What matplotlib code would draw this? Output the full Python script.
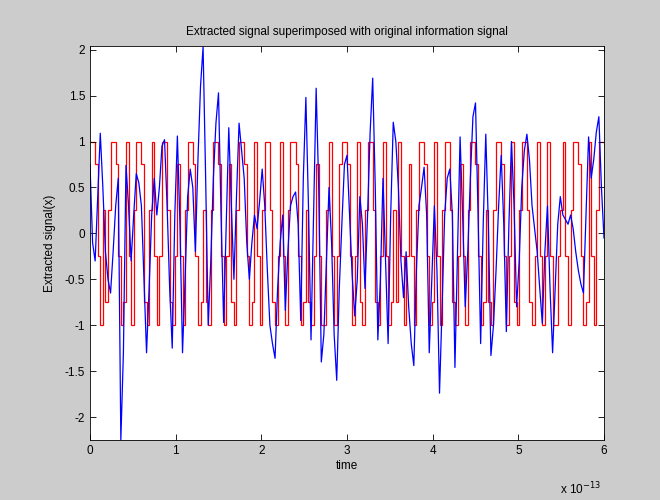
import numpy as np
import matplotlib
matplotlib.use('Agg')
import matplotlib.pyplot as plt

# sample spacing (s) and x-axis scale
dt = 3e-15
x_scale = 1e-13

# original information signal (red), one level per sample
info_signal = [
    1, 1, 0.75, -0.25, -1, 0.25, -0.75, 0.25, 1, 1,
    0.75, -0.25, -1, -0.75, 1, -0.25, -1, 0.25, 1, 1,
    0.75, -0.75, -1, 0.25, 1, -0.25, -1, -0.25, 1, 1,
    0.25, -0.75, -1, -0.25, 0.75, -0.25, -1, 0.25, 1, 1,
    0.75, -0.25, -1, -0.75, 0.25, -0.75, -1, 0.25, 1, 1,
    0.75, -0.25, -1, -0.25, 0.75, -0.75, -1, 0.25, 1, 1,
    0.75, -0.25, -1, -0.75, 1, -0.25, -1, 0.25, 1, 1,
    0.25, -0.75, -1, -0.25, 1, -0.25, -1, 0.25, 1, 1,
    0.75, -0.25, -1, -0.75, 0.25, -0.75, -1, -0.25, 0.75, -0.25,
    -1, -1, 0.25, 1, -0.25, -1, -0.25, 0.75, 1, 1,
    0.75, -0.25, -1, -0.25, 1, -0.75, -1, 0.25, 1, 1,
    0.25, -0.75, -1, -0.25, 1, -0.25, -1, -0.75, 0.25, -0.75,
    1, -0.25, -1, -0.25, 0.75, -0.25, -1, 0.25, 1, 1,
    0.75, -0.25, -1, -0.75, 1, -0.25, -1, 0.25, 1, 1,
    0.25, -0.75, -1, -0.25, 0.75, -0.25, -1, 0.25, 1, 1,
    0.75, -0.25, -1, -0.75, 0.25, -0.75, -1, 0.25, 1, 1,
    0.75, -0.25, -1, -0.25, 1, -0.75, -1, 0.25, 1, 1,
    0.25, -0.75, -1, -0.25, 1, -0.25, -1, -0.25, 1, -0.25,
    -1, -1, -0.25, 0.25, 1, -0.25, -1, 0.25, 1, 1,
    0.75, -0.25, -1, -0.75, 1, -0.25, -1, 0.25, 1, 1,
]

# extracted signal (blue), one value per sample edge
extracted = [
    0.75, -0.1, -0.3, 0.4, 1.09, 0.5, -0.2, -0.5, -0.65, -0.2,
    0.3, 0.6, -2.25, -1.3, 0.74, 0.3, -0.3, 0.2, 0.65, 0.55,
    0.3, -0.5, -1.3, -0.6, 0.2, 0.6, 0.2, 0.5, 0.95, 1.02,
    0.3, -0.6, -1.25, 0.2, 1.06, 0.1, -1.3, -0.5, 0.4, 0.7,
    0.5, -0.2, 0.8, 1.6, 2.03, 0.6, -1.0, -0.3, 0.6, 1.2,
    1.53, 0.2, -0.97, 0.1, 1.15, 0.3, -0.5, 0.4, 1.2, 0.9,
    0.6, -0.1, -0.5, -0.1, 0.2, 0.05, 0.35, 0.7, 0.3, -0.4,
    -1.0, -1.2, -1.36, -0.6, -0.1, 0.2, -0.84, -0.2, 0.3, 0.4,
    0.45, 0.1, -0.95, 0.6, 1.48, 0.3, -1.16, 0.2, 1.58, 0.5,
    -1.4, -1.1, -0.3, 0.5, -0.1, -1.1, -1.6, -0.6, 0.1, 0.75,
    0.85, 0.2, -0.45, -0.9, -0.5, 0.4, 0.1, -0.6, 0.2, 1.1,
    1.69, 0.5, -1.16, -0.5, 0.6, -0.3, -1.2, 0.2, 1.21, 1.0,
    0.5, -0.3, -0.7, -0.2, -0.8, -1.2, -1.44, -0.4, 0.3, 0.5,
    0.72, 0.2, -1.3, -0.5, 0.3, -0.4, -1.74, -0.8, 0.2, 0.6,
    0.7, 0.2, -1.46, -0.2, 1.05, 0.2, -0.8, -0.2, 0.6, 1.27,
    1.42, 0.2, -1.2, 0.1, 1.08, 0.1, -1.33, -1.0, -0.4, 0.3,
    0.85, 0.1, -1.07, 0.1, 1.0, 0.3, -0.8, -0.3, 0.5, 0.9,
    1.08, 0.8, 0.3, 0.05, -0.2, -0.6, -0.98, -0.2, 0.3, -0.6,
    -1.3, -0.6, 0.1, 0.4, 0.2, 0.15, 0.1, 0.2, 0.05, -0.2,
    -0.4, -0.55, -0.65, 0.2, 1.05, 0.6, 0.8, 1.1, 1.27, 0.5,
    -0.05,
]

edges = np.arange(len(info_signal) + 1) * dt / x_scale
t_ext = np.arange(len(extracted)) * dt / x_scale

plt.rcParams['font.family'] = ['Liberation Sans', 'DejaVu Sans']
plt.rcParams['font.size'] = 8.5

fig = plt.figure(figsize=(6.6, 5.0), dpi=100, facecolor='#cccccc')
ax = fig.add_axes([90 / 660, 60 / 500, 514 / 660, 394 / 500])
ax.set_facecolor('white')

ax.stairs(info_signal, edges, baseline=None, color='#ff0000', linewidth=0.9)
ax.plot(t_ext, extracted, color='#0000ff', linewidth=0.9)

ax.set_xlim(0, 6)
ax.set_ylim(-2.25, 2.04)
ax.set_xticks(range(0, 7))
ax.set_yticks([-2, -1.5, -1, -0.5, 0, 0.5, 1, 1.5, 2])
ax.set_yticklabels(['-2', '-1.5', '-1', '-0.5', '0', '0.5', '1', '1.5', '2'])
ax.tick_params(direction='in', top=True, right=True, length=4, width=0.6,
               labelsize=8.5)
for s in ax.spines.values():
    s.set_linewidth(0.6)

ax.set_title('Extracted signal superimposed with original information signal',
             fontsize=8.5, pad=8)
ax.set_xlabel('time', fontsize=8.5, labelpad=2)
ax.set_ylabel('Extracted signal(x)', fontsize=8.5, labelpad=6)
fig.text(560 / 660, 1 - 494 / 500, r'x 10$^{-13}$', fontsize=8.5)

fig.savefig('out.png', dpi=100, facecolor=fig.get_facecolor())
